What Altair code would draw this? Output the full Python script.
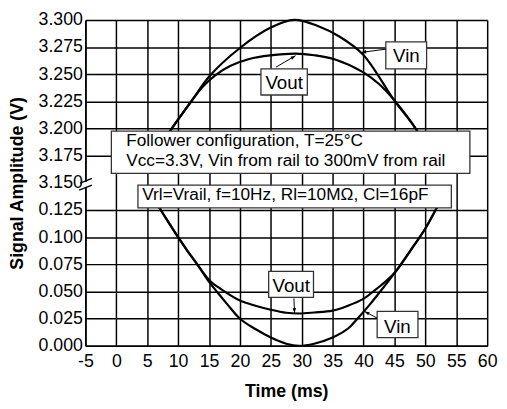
import math
import altair as alt
import pandas as pd

# ---------------- data (time in ms, amplitude in V) ----------------
vin_top_t = [6.0, 8.9, 12.0, 15.2, 19.9, 24.9, 28.8, 32.7, 36.0, 39.9, 44.9, 48.65, 51.0]
vin_top_v = [3.174, 3.1995, 3.224, 3.249, 3.2737, 3.2927, 3.300, 3.2942, 3.285, 3.2682, 3.2265, 3.198, 3.172]
vout_top_t = [6.0, 8.9, 12.0, 13.9, 16.0, 18.4, 21.5, 24.9, 29.0, 32.0, 35.4, 39.9, 42.5, 44.9, 48.65, 51.0]
vout_top_v = [3.174, 3.1995, 3.224, 3.238, 3.249, 3.2576, 3.264, 3.2673, 3.269, 3.2675, 3.2636, 3.252, 3.241, 3.2265, 3.198, 3.172]
vin_bot_t = [5.5, 6.7, 8.3, 10.0, 11.5, 13.1, 15.0, 16.25, 18.0, 20.0, 22.5, 25.0, 27.5, 29.5, 32.0, 35.0, 37.5, 39.0, 41.0, 42.7, 45.0, 47.5, 50.0, 52.1, 53.0]
vin_bot_v = [0.140, 0.1296, 0.115, 0.100, 0.0875, 0.075, 0.059, 0.050, 0.038, 0.025, 0.0155, 0.0077, 0.002, 0.0, 0.002, 0.0077, 0.016, 0.025, 0.038, 0.050, 0.067, 0.087, 0.108, 0.1296, 0.138]
vout_bot_t = [5.5, 6.7, 8.3, 10.0, 11.5, 13.1, 15.0, 17.0, 20.0, 22.5, 25.0, 27.5, 29.5, 32.0, 35.0, 37.5, 39.9, 41.75, 43.5, 45.3, 47.5, 50.0, 52.1, 53.0]
vout_bot_v = [0.140, 0.1296, 0.115, 0.100, 0.0875, 0.075, 0.0607, 0.052, 0.0417, 0.037, 0.0333, 0.0305, 0.0298, 0.0307, 0.0324, 0.037, 0.043, 0.0508, 0.059, 0.069, 0.087, 0.108, 0.1296, 0.138]

x_ticks = list(range(-5, 61, 5))
y_ticks = [0.000, 0.025, 0.050, 0.075, 0.100, 0.125, 3.150, 3.175, 3.200, 3.225, 3.250, 3.275, 3.300]
BREAK_OFFSET = 3.0  # the axis is broken between 0.150 and 3.150

# annotation texts
note_text = ["Follower configuration, T=25°C",
             "Vcc=3.3V, Vin from rail to 300mV from rail",
             "Vrl=Vrail, f=10Hz, Rl=10MΩ, Cl=16pF"]
note_t = [1.6, 1.6, 4.2]
note_v = [3.1838, 3.1657, 0.1343]

label_text = ["Vout", "Vin", "Vout", "Vin"]
label_t = [27.15, 46.93, 28.29, 45.47]
label_v = [3.2364, 3.2611, 0.0498, 0.0120]

box_t1 = [-0.8, 3.5, 23.4, 43.6, 24.65, 42.2]
box_t2 = [57.2, 54.2, 30.9, 50.2, 31.9, 48.8]
box_v1 = [3.1588, 0.1270, 3.2309, 3.2550, 0.0446, 0.0075]
box_v2 = [3.1977, 0.1479, 3.2550, 3.2798, 0.0685, 0.0317]

arrow_t1 = [25.82, 43.62, 28.73, 42.18]
arrow_v1 = [3.2565, 3.2731, 0.0437, 0.0256]
arrow_t2 = [29.0, 39.63, 28.84, 40.16]
arrow_v2 = [3.2671, 3.2701, 0.0302, 0.0317]


def fold(v):
    return v - BREAK_OFFSET if v > 1 else v


W, H = 408, 331
X_DOM = [-5, 60]
Y_DOM = [0, 0.3]
FONT = "Liberation Sans"

rows = []
for name, ts, vs in [("Vin top", vin_top_t, vin_top_v), ("Vout top", vout_top_t, vout_top_v),
                     ("Vin bottom", vin_bot_t, vin_bot_v), ("Vout bottom", vout_bot_t, vout_bot_v)]:
    for t, v in zip(ts, vs):
        rows.append({"series": name, "t": t, "y": fold(v)})
curves = pd.DataFrame(rows)

notes = pd.DataFrame({"text": note_text, "t": note_t, "y": [fold(v) for v in note_v]})
labels = pd.DataFrame({"text": label_text, "t": label_t, "y": [fold(v) for v in label_v]})
boxes = pd.DataFrame({"t": box_t1, "t2": box_t2,
                      "y": [fold(v) for v in box_v1], "y2": [fold(v) for v in box_v2]})
ppt = W / (X_DOM[1] - X_DOM[0])
ppy = H / (Y_DOM[1] - Y_DOM[0])
arrows = pd.DataFrame({"t": arrow_t1, "t2": arrow_t2,
                       "y": [fold(v) for v in arrow_v1], "y2": [fold(v) for v in arrow_v2]})
arrows["ang"] = [
    (math.degrees(math.atan2((b - a) * ppt, (d - c) * ppy)) + 360) % 360
    for a, b, c, d in zip(arrows.t, arrows.t2, arrows.y, arrows.y2)
]
heads = pd.DataFrame({"t": arrows.t2, "y": arrows.y2, "ang": arrows.ang})

# axis-break decoration (in folded axis units)
brk_lines = pd.DataFrame({"t": [-5.86, -6.02], "t2": [-3.94, -3.94],
                          "y": [0.1497, 0.1433], "y2": [0.1542, 0.1479]})
brk_gap = pd.DataFrame({"t": [-5.3], "t2": [-4.7], "y": [0.1463], "y2": [0.1510]})

xs = alt.Scale(domain=X_DOM, nice=False, zero=False)
ys = alt.Scale(domain=Y_DOM, nice=False, zero=False)

xaxis = alt.Axis(values=x_ticks, grid=True, gridColor="black", gridWidth=1.5,
                 gridOpacity=1, domainColor="black", domainWidth=1.5, ticks=False,
                 labelFont=FONT, labelFontSize=18, labelColor="black", labelPadding=7,
                 labelFlush=False, labelOverlap=False,
                 labelExpr="datum.value < 0 ? '-' + abs(datum.value) : '' + datum.value",
                 titleFont=FONT, titleFontSize=18, titleFontWeight="bold", titleColor="black",
                 titlePadding=12, zindex=0)
yaxis = alt.Axis(values=[fold(v) for v in y_ticks], grid=True,
                 gridColor="black", gridWidth=1.5,
                 gridOpacity={"condition": {"test": "abs(datum.value - 0.15) < 0.001", "value": 0}, "value": 1},
                 domainColor="black", domainWidth=1.5, ticks=False,
                 labelExpr="datum.value > 0.14 ? format(datum.value + 3, '.3f') : format(datum.value, '.3f')",
                 labelFont=FONT, labelFontSize=18, labelColor="black", labelPadding=3,
                 labelFlush=False, labelOverlap=False,
                 titleFont=FONT, titleFontSize=18, titleFontWeight="bold", titleColor="black",
                 titlePadding=12, zindex=0)


def X(field="t"):
    return alt.X(f"{field}:Q", scale=xs, axis=xaxis, title="Time (ms)")


def Y(field="y"):
    return alt.Y(f"{field}:Q", scale=ys, axis=yaxis, title="Signal Amplitude (V)")


lines = alt.Chart(curves).mark_line(color="black", strokeWidth=2.2, interpolate="catmull-rom").encode(
    x=X(), y=Y(), detail="series:N")

box_layer = alt.Chart(boxes).mark_rect(fill="white", stroke="#333333", strokeWidth=1.3).encode(
    x=X(), x2="t2:Q", y=Y(), y2="y2:Q")

note_layer = alt.Chart(notes).mark_text(align="left", baseline="alphabetic", font=FONT,
                                        fontSize=17.5, color="black").encode(
    x=X(), y=Y(), text="text:N")

label_layer = alt.Chart(labels).mark_text(align="center", baseline="alphabetic", font=FONT,
                                          fontSize=19, color="black").encode(
    x=X(), y=Y(), text="text:N")

arrow_lines = alt.Chart(arrows).mark_rule(color="black", strokeWidth=1).encode(
    x=X(), x2="t2:Q", y=Y(), y2="y2:Q")

arrow_heads = alt.Chart(heads).mark_point(shape="M0,0L0.45,1.3L-0.45,1.3Z", filled=True,
                                          color="black", size=60, opacity=1).encode(
    x=X(), y=Y(), angle=alt.Angle("ang:Q", scale=None))

gap_layer = alt.Chart(brk_gap).mark_rect(fill="white").encode(
    x=X(), x2="t2:Q", y=Y(), y2="y2:Q")

brk_layer = alt.Chart(brk_lines).mark_rule(color="black", strokeWidth=1.3).encode(
    x=X(), x2="t2:Q", y=Y(), y2="y2:Q")

chart = alt.layer(lines, box_layer, note_layer, label_layer, arrow_lines, arrow_heads,
                  gap_layer, brk_layer).properties(
    width=W, height=H,
    autosize=alt.AutoSizeParams(type="none"),
    padding={"left": 78.6, "top": 9, "right": 12, "bottom": 60},
    background="white",
).configure_view(stroke=None)

chart.save("out.html", embed_options={"renderer": "svg", "actions": False})
